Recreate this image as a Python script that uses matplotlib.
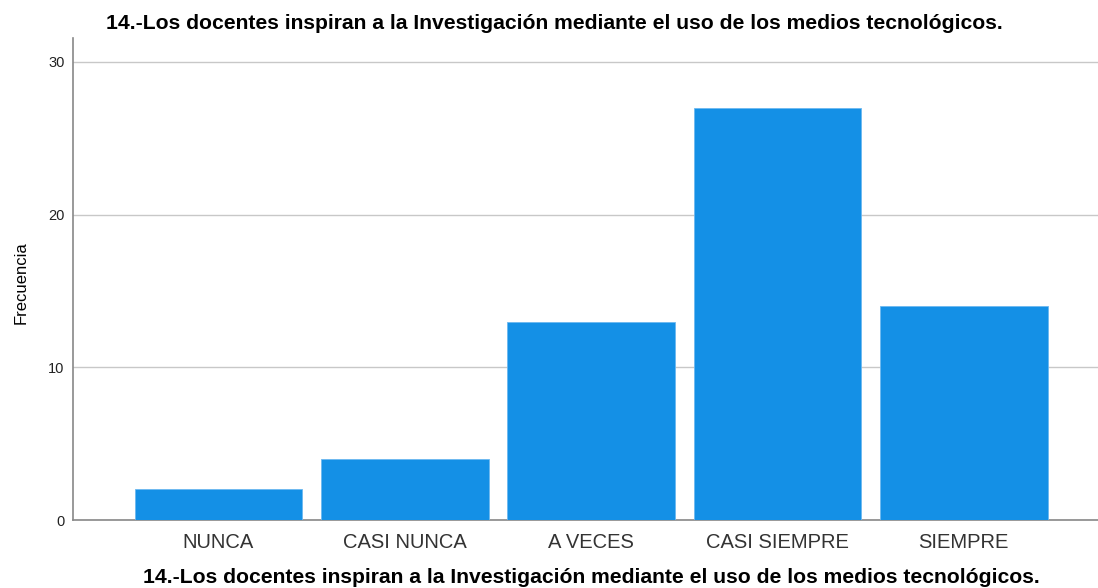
import matplotlib
matplotlib.use("Agg")
import matplotlib.pyplot as plt

categorias = ["NUNCA", "CASI NUNCA", "A VECES", "CASI SIEMPRE", "SIEMPRE"]
frecuencias = [2, 4, 13, 27, 14]
titulo = "14.-Los docentes inspiran a la Investigación mediante el uso de los medios tecnológicos."

plt.rcParams["font.family"] = ["Liberation Sans", "DejaVu Sans"]

fig = plt.figure(figsize=(10.98, 5.88), dpi=100)
ax = fig.add_axes([0.0665, 0.1156, 0.9335, 0.8198])

pos = range(len(categorias))
ax.bar(pos, frecuencias, width=0.9, color="#1490e6", edgecolor="#6cb8f0",
       linewidth=0.6, zorder=3)

ax.set_xlim(-0.78, 4.72)
ax.set_ylim(0, 31.57)
ax.set_yticks([0, 10, 20, 30])
ax.set_xticks(list(pos))
ax.set_xticklabels(categorias, fontsize=14.5, color="#333333")
ax.tick_params(axis="y", labelsize=10.5, length=0, pad=6, colors="#222222")
ax.tick_params(axis="x", length=0, pad=9)
ax.grid(axis="y", color="#c8c8c8", linewidth=1, zorder=0)

for s in ["top", "right"]:
    ax.spines[s].set_visible(False)
for s in ["left", "bottom"]:
    ax.spines[s].set_color("#888888")
    ax.spines[s].set_linewidth(1.2)

fig.text(0.019, 0.52, "Frecuencia", rotation=90, ha="center", va="center",
         fontsize=12)
fig.text(0.505, 0.96, titulo, ha="center", va="center",
         fontsize=15.2, fontweight="bold")
fig.text(0.5387, 0.0187, titulo, ha="center", va="center",
         fontsize=15.2, fontweight="bold")

fig.savefig("out.png", dpi=100)
